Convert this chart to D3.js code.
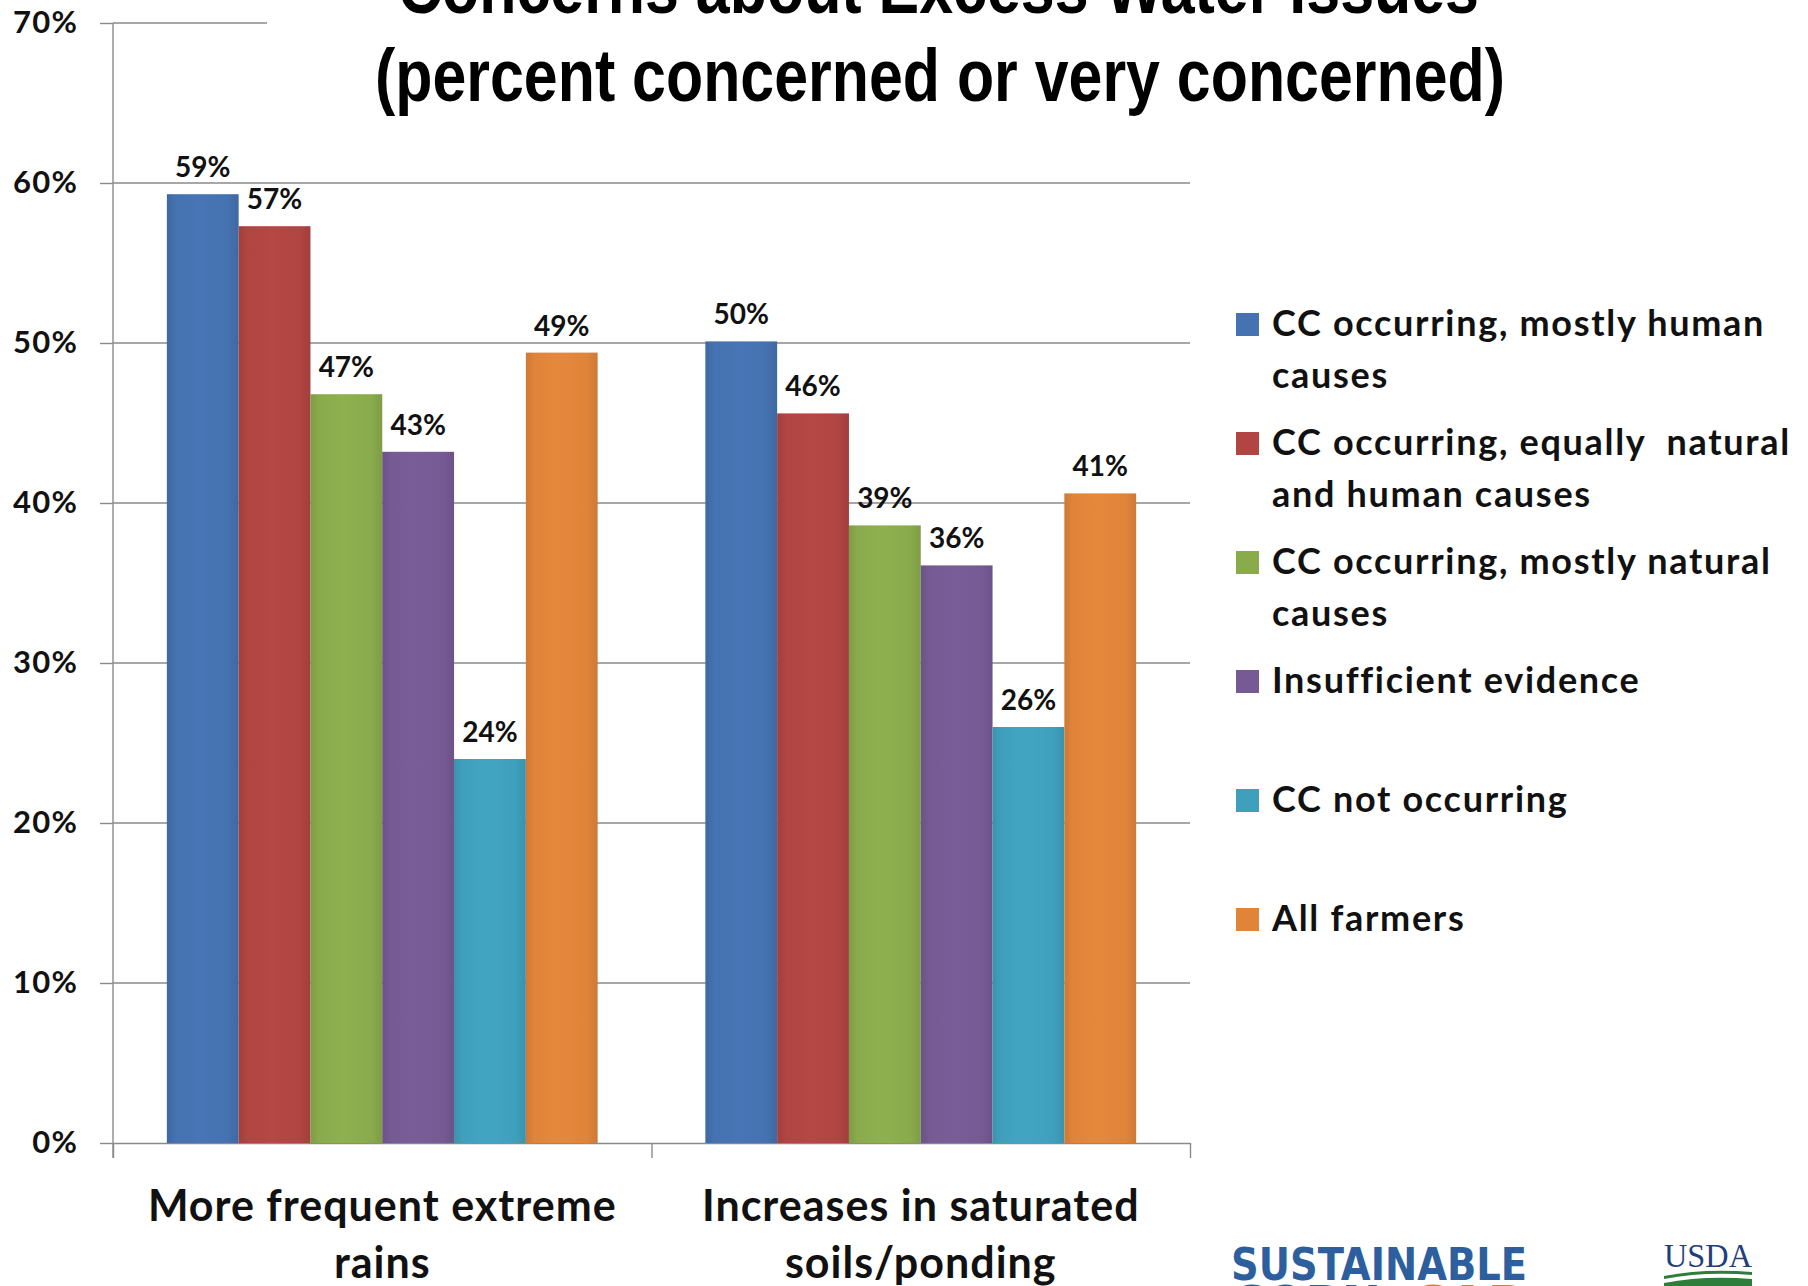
<!DOCTYPE html>
<html><head><meta charset="utf-8">
<script src="https://cdn.jsdelivr.net/npm/d3@7/dist/d3.min.js"></script>
<style>body{margin:0;background:#fff}svg{display:block}</style>
</head><body>
<svg id="chart" width="1808" height="1286"></svg>
<script>
// ---------- data ----------
const titleLines = ["Concerns about Excess Water Issues", "(percent concerned or very concerned)"];
const categories = ["More frequent extreme rains", "Increases in saturated soils/ponding"];
const categoryLines = [["More frequent extreme", "rains"], ["Increases in saturated", "soils/ponding"]];
const seriesNames = [
  "CC occurring, mostly human causes",
  "CC occurring, equally natural and human causes",
  "CC occurring, mostly natural causes",
  "Insufficient evidence",
  "CC not occurring",
  "All farmers"
];
const legendLines = [
  ["CC occurring, mostly human", "causes"],
  ["CC occurring, equally  natural", "and human causes"],
  ["CC occurring, mostly natural", "causes"],
  ["Insufficient evidence"],
  ["CC not occurring"],
  ["All farmers"]
];
const extremeRains   = [59.3, 57.3, 46.8, 43.2, 24.0, 49.4];
const saturatedSoils = [50.1, 45.6, 38.6, 36.1, 26.0, 40.6];
const yTicks = [0, 10, 20, 30, 40, 50, 60, 70];
const seriesColors = ["#4572b0", "#b04542", "#8aab4c", "#755a94", "#3fa0bc", "#e0843a"];

const values = [extremeRains, saturatedSoils];

// ---------- layout ----------
const svg = d3.select("#chart");
const W = 1808, H = 1286;
const plot = {left: 113, right: 1190, top: 23, bottom: 1143};
const FONT = "Lato, Carlito, Calibri, 'Open Sans', sans-serif";

const y = d3.scaleLinear().domain([0, 70]).range([plot.bottom, plot.top]);
const x0 = d3.scaleBand().domain(categories).range([plot.left, plot.right])
  .paddingInner(0.2).paddingOuter(0.1);
const x1 = d3.scaleBand().domain(d3.range(seriesNames.length)).range([0, x0.bandwidth()]).padding(0);

const gridColor = "#8a8a8a";

// gridlines
svg.append("g").selectAll("line").data(yTicks.filter(d => d > 0)).join("line")
  .attr("x1", plot.left).attr("x2", plot.right)
  .attr("y1", d => y(d)).attr("y2", d => y(d))
  .attr("stroke", gridColor).attr("stroke-width", 1.4);

// y axis
const yAxis = svg.append("g").attr("transform", `translate(${plot.left},0)`)
  .call(d3.axisLeft(y).tickValues(yTicks).tickSize(13).tickSizeOuter(0).tickPadding(22)
    .tickFormat(d => d + "%"));
yAxis.select(".domain").remove();
yAxis.selectAll(".tick line").attr("stroke", gridColor).attr("stroke-width", 1.4);
yAxis.selectAll(".tick text").attr("font-family", FONT).attr("font-weight", 700)
  .attr("font-size", 31).attr("fill", "#111").attr("letter-spacing", 1.2);
svg.append("line").attr("x1", plot.left).attr("x2", plot.left)
  .attr("y1", y(70)).attr("y2", plot.bottom + 15)
  .attr("stroke", gridColor).attr("stroke-width", 1.4);

// x axis (boundary ticks)
const xb = d3.scaleLinear().domain([0, categories.length]).range([plot.left, plot.right]);
const xAxis = svg.append("g").attr("transform", `translate(0,${plot.bottom})`)
  .call(d3.axisBottom(xb).tickValues(d3.range(categories.length + 1)).tickSize(15).tickSizeOuter(0).tickFormat(""));
xAxis.select(".domain").attr("stroke", gridColor).attr("stroke-width", 1.4);
xAxis.selectAll(".tick line").attr("stroke", gridColor).attr("stroke-width", 1.4);

// bars
const defs = svg.append("defs");
seriesColors.forEach((c, i) => {
  const g = defs.append("linearGradient").attr("id", "g" + i).attr("x1", 0).attr("x2", 1).attr("y1", 0).attr("y2", 0);
  const base = d3.color(c);
  g.append("stop").attr("offset", "0%").attr("stop-color", base.darker(0.25));
  g.append("stop").attr("offset", "12%").attr("stop-color", base);
  g.append("stop").attr("offset", "45%").attr("stop-color", base.brighter(0.08));
  g.append("stop").attr("offset", "85%").attr("stop-color", base);
  g.append("stop").attr("offset", "100%").attr("stop-color", base.darker(0.25));
});

const groups = svg.append("g").selectAll("g").data(categories).join("g")
  .attr("transform", d => `translate(${x0(d)},0)`);
groups.selectAll("rect").data((d, ci) => values[ci].map((v, si) => ({v, si}))).join("rect")
  .attr("x", d => x1(d.si)).attr("width", x1.bandwidth())
  .attr("y", d => y(d.v)).attr("height", d => y(0) - y(d.v))
  .attr("fill", d => `url(#g${d.si})`);
groups.selectAll("text").data((d, ci) => values[ci].map((v, si) => ({v, si}))).join("text")
  .attr("x", d => x1(d.si) + x1.bandwidth() / 2).attr("y", d => y(d.v) - 17)
  .attr("text-anchor", "middle").attr("font-family", FONT).attr("font-weight", 700)
  .attr("font-size", 28).attr("fill", "#111")
  .text(d => Math.round(d.v) + "%");

// category labels
svg.append("g").selectAll("text").data(categories).join("text")
  .attr("x", d => x0(d) + x0.bandwidth() / 2).attr("y", 1221)
  .attr("text-anchor", "middle").attr("font-family", FONT).attr("font-weight", 700)
  .attr("font-size", 43).attr("fill", "#111").attr("letter-spacing", 1)
  .each(function(d, i) {
    d3.select(this).selectAll("tspan").data(categoryLines[i]).join("tspan")
      .attr("x", x0(d) + x0.bandwidth() / 2).attr("dy", (t, j) => j === 0 ? 0 : 57).text(t => t);
  });

// legend
const legend = svg.append("g").attr("transform", "translate(1236,336)");
const items = legend.selectAll("g").data(seriesNames).join("g")
  .attr("transform", (d, i) => `translate(0,${i * 119})`);
items.append("rect").attr("x", 0).attr("y", -23).attr("width", 23).attr("height", 23)
  .attr("fill", (d, i) => seriesColors[i]);
items.append("text").attr("x", 36).attr("y", 0)
  .attr("font-family", FONT).attr("font-weight", 700).attr("font-size", 36).attr("fill", "#111")
  .attr("letter-spacing", 1.7).attr("xml:space", "preserve")
  .each(function(d, i) {
    d3.select(this).selectAll("tspan").data(legendLines[i]).join("tspan")
      .attr("x", 36).attr("dy", (t, j) => j === 0 ? 0 : 52).text(t => t);
  });

// title (white box hides the top gridline)
svg.append("rect").attr("x", 267).attr("y", 0).attr("width", W - 267).attr("height", 125).attr("fill", "#fff");
const TFONT = "'Liberation Sans Narrow', 'Liberation Sans', Arial, sans-serif";
svg.append("text").attr("x", 398).attr("y", 13).attr("font-family", TFONT).attr("font-size", 74)
  .attr("font-weight", 700).attr("fill", "#000")
  .attr("textLength", 1081).attr("lengthAdjust", "spacingAndGlyphs").text(titleLines[0]);
svg.append("text").attr("x", 375).attr("y", 101).attr("font-family", TFONT).attr("font-size", 74)
  .attr("font-weight", 700).attr("fill", "#000")
  .attr("textLength", 1130).attr("lengthAdjust", "spacingAndGlyphs").text(titleLines[1]);

// logos (bottom right)
const logo = svg.append("g");
logo.append("text").attr("x", 1231).attr("y", 1280).attr("font-family", "'DejaVu Sans', sans-serif")
  .attr("font-weight", 700).attr("font-size", 45).attr("fill", "#2d5f9f")
  .attr("textLength", 296).attr("lengthAdjust", "spacingAndGlyphs").text("SUSTAINABLE");
logo.append("text").attr("x", 1231).attr("y", 1318).attr("font-family", "'DejaVu Sans', sans-serif")
  .attr("font-weight", 700).attr("font-size", 45).attr("fill", "#2d5f9f")
  .attr("textLength", 150).attr("lengthAdjust", "spacingAndGlyphs").text("CORN");
logo.append("text").attr("x", 1410).attr("y", 1318).attr("font-family", "'DejaVu Sans', sans-serif")
  .attr("font-weight", 700).attr("font-size", 45).attr("fill", "#e07a2a")
  .attr("textLength", 115).attr("lengthAdjust", "spacingAndGlyphs").text("CAP");
logo.append("text").attr("x", 1664).attr("y", 1267).attr("font-family", "'Liberation Serif', serif")
  .attr("font-size", 34).attr("fill", "#1f3f7a")
  .attr("textLength", 88).attr("lengthAdjust", "spacingAndGlyphs").text("USDA");
logo.append("path").attr("d", "M1664,1276 Q1705,1268 1752,1272 L1752,1275 Q1705,1271 1664,1279 Z").attr("fill", "#2e7d3a");
logo.append("path").attr("d", "M1664,1283 Q1705,1275 1752,1279 L1752,1286 L1664,1286 Z").attr("fill", "#2e7d3a");
</script>
</body></html>
